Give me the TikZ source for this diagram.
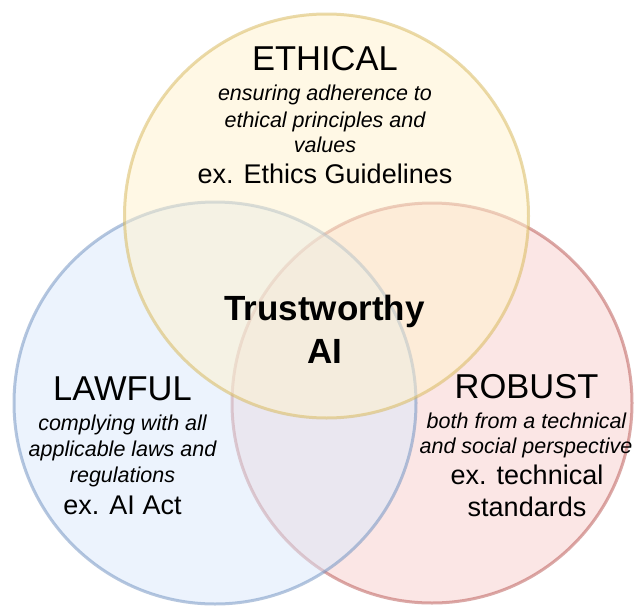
\documentclass[tikz,border=0pt]{standalone}
\usepackage{fontspec}
\setmainfont{Liberation Sans}
\definecolor{yfill}{HTML}{FFF2CC}
\definecolor{ystroke}{HTML}{D6B656}
\definecolor{bfill}{HTML}{DAE8FC}
\definecolor{bstroke}{HTML}{6C8EBF}
\definecolor{rfill}{HTML}{F8CECC}
\definecolor{rstroke}{HTML}{B85450}
\begin{document}
\begin{tikzpicture}[x=1pt,y=-1pt,
  venn/.style={circle, inner sep=0pt, line width=3pt, opacity=0.5},
  titletext/.style={anchor=base, inner sep=0pt, font=\fontsize{34.5}{40}\selectfont},
  desctext/.style={anchor=base, inner sep=0pt, font=\fontsize{21.5}{26}\selectfont\itshape},
  extext/.style={anchor=base, inner sep=0pt, font=\fontsize{27}{32}\selectfont},
  coretext/.style={anchor=base, inner sep=0pt, font=\fontsize{35}{42}\selectfont\bfseries}]
\useasboundingbox (0,0) rectangle (634,605);
\fill[white] (0,0) rectangle (634,605);
% circles
\node[venn, draw=rstroke, fill=rfill, minimum size=400pt] (robust) at (432,403) {};
\node[venn, draw=bstroke, fill=bfill, minimum size=402pt] (lawful) at (215,403) {};
\node[venn, draw=ystroke, fill=yfill, minimum size=404pt] (ethical) at (326.5,216) {};
% ethical texts
\node[titletext] (ethT) at (325,70) {ETHICAL};
\node[desctext] (ethD1) at (325,100) {ensuring adherence to};
\node[desctext] (ethD2) at (325,127) {ethical principles and};
\node[desctext] (ethD3) at (325,152) {values};
\node[extext] (ethE) at (325,183) {ex. Ethics Guidelines};
% lawful texts
\node[titletext] (lawT) at (122.5,400) {LAWFUL};
\node[desctext] (lawD1) at (122.5,430) {complying with all};
\node[desctext] (lawD2) at (122.5,456.5) {applicable laws and};
\node[desctext] (lawD3) at (122.5,482.5) {regulations};
\node[extext] (lawE) at (122.5,514) {ex. AI Act};
% robust texts
\node[titletext] (robT) at (526.5,398) {ROBUST};
\node[desctext] (robD1) at (526.5,428) {both from a technical};
\node[desctext] (robD2) at (526,453) {and social perspective};
\node[extext] (robE1) at (527,484) {ex. technical};
\node[extext] (robE2) at (527,516) {standards};
% center
\node[coretext] (core1) at (324.5,320) {Trustworthy};
\node[coretext] (core2) at (324.5,363) {AI};
\end{tikzpicture}
\end{document}
